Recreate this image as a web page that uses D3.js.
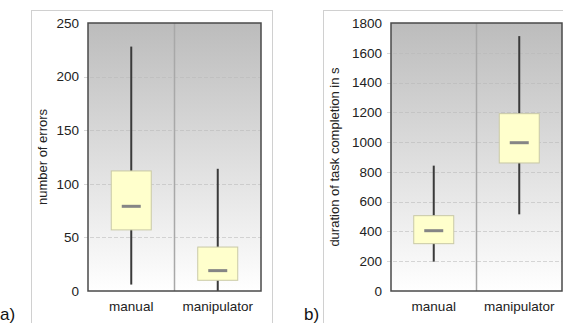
<!DOCTYPE html>
<html>
<head>
<meta charset="utf-8">
<script src="https://cdn.jsdelivr.net/npm/d3@7"></script>
<style>
  body { margin: 0; background: #fff; }
  svg { display: block; font-family: "Liberation Sans", Arial, sans-serif; }
</style>
</head>
<body>
<div class="chart"></div>
<script>
var svgWidth = 563;
var svgHeight = 323;

// categories shared by both panels
var categories = ["manual", "manipulator"];

// panel a) number of errors: [whiskerLow, q1, median, q3, whiskerHigh]
var errorsStats = [
  [6, 57, 79, 112, 228],
  [0, 10, 19, 41, 114]
];
var errorsTicks = [0, 50, 100, 150, 200, 250];

// panel b) duration of task completion in s
var durationStats = [
  [197, 318, 405, 506, 842],
  [515, 860, 996, 1191, 1712]
];
var durationTicks = [0, 200, 400, 600, 800, 1000, 1200, 1400, 1600, 1800];

var svg = d3.select(".chart")
  .append("svg")
  .attr("width", svgWidth)
  .attr("height", svgHeight);

var defs = svg.append("defs");
var grad = defs.append("linearGradient")
  .attr("id", "bgGrad")
  .attr("x1", 0).attr("y1", 0).attr("x2", 0).attr("y2", 1);
grad.append("stop").attr("offset", "0%").attr("stop-color", "#bcbcbc");
grad.append("stop").attr("offset", "100%").attr("stop-color", "#ffffff");

function drawPanel(opts) {
  // outer light frame
  svg.append("rect")
    .attr("x", opts.frame[0] + 0.5)
    .attr("y", 10.5)
    .attr("width", opts.frame[1] - opts.frame[0])
    .attr("height", 340)
    .attr("fill", "none")
    .attr("stroke", "#d0d0d0")
    .attr("stroke-width", 1);

  var left = opts.plot[0], right = opts.plot[1];
  var top = 23, bottom = 291;

  var x = d3.scaleBand()
    .domain(categories)
    .range([left, right]);

  var y = d3.scaleLinear()
    .domain([0, opts.max])
    .range([bottom, top]);

  var g = svg.append("g");

  g.append("rect")
    .attr("x", left).attr("y", top)
    .attr("width", right - left).attr("height", bottom - top)
    .attr("fill", "url(#bgGrad)");

  // gridlines
  g.selectAll(".grid")
    .data(opts.ticks.slice(1, -1))
    .enter()
    .append("line")
    .attr("x1", left - 4)
    .attr("x2", right)
    .attr("y1", d => Math.round(y(d)) + 0.5)
    .attr("y2", d => Math.round(y(d)) + 0.5)
    .attr("stroke", "#b8b8b8")
    .attr("stroke-opacity", 0.55)
    .attr("stroke-dasharray", "4,2");

  // category divider
  g.append("line")
    .attr("x1", x(categories[1])).attr("x2", x(categories[1]))
    .attr("y1", top).attr("y2", bottom)
    .attr("stroke", "#a8a8a8")
    .attr("stroke-width", 1.5);

  // y axis
  var yAxis = d3.axisLeft(y)
    .tickValues(opts.ticks)
    .tickFormat(d3.format("d"))
    .tickSize(0)
    .tickPadding(9);
  var ya = g.append("g")
    .attr("transform", `translate(${left}, 0)`)
    .call(yAxis);
  ya.select(".domain").remove();
  ya.selectAll("text")
    .attr("font-size", 13.5)
    .attr("fill", "#222")
    .attr("font-family", "Liberation Sans, Arial, sans-serif");

  // x axis labels
  var xAxis = d3.axisBottom(x).tickSize(0).tickPadding(10);
  var xa = g.append("g")
    .attr("transform", `translate(0, ${bottom})`)
    .call(xAxis);
  xa.select(".domain").remove();
  xa.selectAll("text")
    .attr("font-size", 13.5)
    .attr("fill", "#222")
    .attr("font-family", "Liberation Sans, Arial, sans-serif");

  var boxW = 40;
  var boxes = g.selectAll(".box")
    .data(opts.stats)
    .enter()
    .append("g")
    .attr("transform", (d, i) => `translate(${x(categories[i]) + x.bandwidth() / 2}, 0)`);

  boxes.append("line")
    .attr("x1", 0).attr("x2", 0)
    .attr("y1", d => y(d[0]))
    .attr("y2", d => y(d[4]))
    .attr("stroke", "#3a3a3a")
    .attr("stroke-width", 2);

  boxes.append("rect")
    .attr("x", -boxW / 2)
    .attr("width", boxW)
    .attr("y", d => y(d[3]))
    .attr("height", d => y(d[1]) - y(d[3]))
    .attr("fill", "#ffffcc")
    .attr("stroke", "#c9c9a6")
    .attr("stroke-width", 1);

  boxes.append("line")
    .attr("x1", -9.5).attr("x2", 9.5)
    .attr("y1", d => y(d[2]))
    .attr("y2", d => y(d[2]))
    .attr("stroke", "#858585")
    .attr("stroke-width", 3);

  // plot border
  g.append("rect")
    .attr("x", left).attr("y", top)
    .attr("width", right - left).attr("height", bottom - top)
    .attr("fill", "none")
    .attr("stroke", "#4a4a4a")
    .attr("stroke-width", 1.5);

  // y label
  svg.append("text")
    .attr("transform", `translate(${opts.ylabelX}, ${(top + bottom) / 2}) rotate(-90)`)
    .attr("text-anchor", "middle")
    .attr("font-size", 13)
    .attr("fill", "#222")
    .text(opts.ylabel);

  // panel letter
  svg.append("text")
    .attr("x", opts.letterX)
    .attr("y", 320)
    .attr("font-size", 17)
    .attr("fill", "#111")
    .text(opts.letter);
}

drawPanel({
  frame: [31, 272],
  plot: [88, 261],
  max: 250,
  ticks: errorsTicks,
  stats: errorsStats,
  ylabel: "number of errors",
  ylabelX: 47,
  letter: "a)",
  letterX: 0
});

drawPanel({
  frame: [323, 620],
  plot: [391, 562],
  max: 1800,
  ticks: durationTicks,
  stats: durationStats,
  ylabel: "duration of task completion in s",
  ylabelX: 339,
  letter: "b)",
  letterX: 304
});
</script>
</body>
</html>
